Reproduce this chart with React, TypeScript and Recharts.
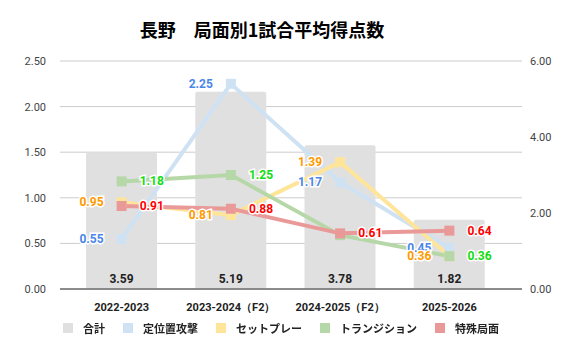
import React from 'react';
import {
  ComposedChart, Bar, Line, XAxis, YAxis, CartesianGrid, LabelList,
} from 'recharts';

const seasons = ['2022-2023', '2023-2024（F2）', '2024-2025（F2）', '2025-2026'];
const total = [3.59, 5.19, 3.78, 1.82];
const setPiece = [0.55, 2.25, 1.17, 0.45];      // 定位置攻撃
const setPlay = [0.95, 0.81, 1.39, 0.36];       // セットプレー
const transition = [1.18, 1.25, 0.59, 0.36];    // トランジション
const special = [0.91, 0.88, 0.61, 0.64];       // 特殊局面
const leftTicks = [0, 0.5, 1, 1.5, 2, 2.5];
const rightTicks = [0, 2, 4, 6];

const data = seasons.map((s, i) => ({
  season: s,
  total: total[i],
  a: setPiece[i],
  b: setPlay[i],
  c: transition[i],
  d: special[i],
}));

const series = [
  { key: 'a', name: '定位置攻撃', color: '#cfe2f3', label: '#4a86e8', side: -1, hide: [] as number[] },
  { key: 'b', name: 'セットプレー', color: '#ffe599', label: '#ff9900', side: -1, hide: [] as number[] },
  { key: 'c', name: 'トランジション', color: '#b6d7a8', label: '#11dd11', side: 1, hide: [2] },
  { key: 'd', name: '特殊局面', color: '#ea9999', label: '#ff0000', side: 1, hide: [] as number[] },
];

const font = 'Roboto, Arial, sans-serif';

const makeLabel = (color: string, side: number, hide: number[]) => (p: any) => {
  if (hide.includes(p.index)) return null;
  return (
    <text
      x={p.x + side * 18}
      y={p.y}
      dy={4}
      textAnchor={side < 0 ? 'end' : 'start'}
      fill={color}
      stroke="#fff"
      strokeWidth={3}
      paintOrder="stroke"
      fontSize={12}
      fontWeight={700}
      fontFamily={font}
    >
      {Number(p.value).toFixed(2)}
    </text>
  );
};

const Square = (props: any) => {
  const { cx, cy, stroke } = props;
  if (cx == null || cy == null) return null;
  return <rect x={cx - 5} y={cy - 5} width={10} height={10} fill={stroke} />;
};

const legendItems = [{ name: '合計', color: '#e0e0e0' }, ...series.map((s) => ({ name: s.name, color: s.color }))];

export default function App() {
  return (
    <div style={{ position: 'fixed', left: 0, top: 0, width: 570, height: 353, background: '#fff' }}>
      <div style={{
        position: 'absolute', top: 16, left: -23, width: 570, textAlign: 'center',
        fontFamily: '"Noto Sans CJK JP", sans-serif', fontWeight: 700, fontSize: 18, color: '#000',
      }}>
        長野　局面別1試合平均得点数
      </div>
      <ComposedChart
        width={570}
        height={353}
        data={data}
        margin={{ top: 61, right: 0, left: 0, bottom: 34 }}
      >
        <CartesianGrid yAxisId="left" vertical={false} stroke="#cccccc" />
        <XAxis
          dataKey="season"
          padding={{ left: 7, right: 18 }}
          tickLine={false}
          axisLine={{ stroke: '#333' }}
          interval={0}
          tick={{ fontSize: 11, fontWeight: 700, fill: '#222', fontFamily: font }}
          tickMargin={8}
        />
        <YAxis
          yAxisId="left"
          domain={[0, 2.5]}
          ticks={leftTicks}
          width={60}
          axisLine={false}
          tickLine={false}
          tickFormatter={(v) => v.toFixed(2)}
          tick={{ fontSize: 11, fill: '#444', fontFamily: font, dx: -6 }}
        />
        <YAxis
          yAxisId="right"
          orientation="right"
          domain={[0, 6]}
          ticks={rightTicks}
          width={48}
          axisLine={false}
          tickLine={false}
          tickFormatter={(v) => v.toFixed(2)}
          tick={{ fontSize: 11, fill: '#444', fontFamily: font, dx: 0 }}
        />
        <Bar yAxisId="right" dataKey="total" name="合計" fill="#e0e0e0" barSize={71} radius={[2, 2, 0, 0]} isAnimationActive={false}>
          <LabelList
            dataKey="total"
            position="insideBottom"
            offset={6}
            formatter={(v: any) => Number(v).toFixed(2)}
            style={{ fontSize: 12, fontWeight: 700, fill: '#222', fontFamily: font }}
          />
        </Bar>
        {series.map((s) => (
          <Line
            key={s.key}
            yAxisId="left"
            dataKey={s.key}
            name={s.name}
            stroke={s.color}
            strokeWidth={4}
            dot={<Square />}
            activeDot={false}
            isAnimationActive={false}
          >
            <LabelList dataKey={s.key} content={makeLabel(s.label, s.side, s.hide)} />
          </Line>
        ))}
      </ComposedChart>
      <div style={{
        position: 'absolute', top: 320, left: -4, width: 570, display: 'flex', justifyContent: 'center',
        fontFamily: '"Noto Sans CJK JP", sans-serif', fontSize: 11, fontWeight: 700, color: '#222',
      }}>
        {legendItems.map((it) => (
          <div key={it.name} style={{ display: 'flex', alignItems: 'center', margin: '0 9px' }}>
            <span style={{ width: 10, height: 10, background: it.color, display: 'inline-block', marginRight: 10 }} />
            <span>{it.name}</span>
          </div>
        ))}
      </div>
    </div>
  );
}
